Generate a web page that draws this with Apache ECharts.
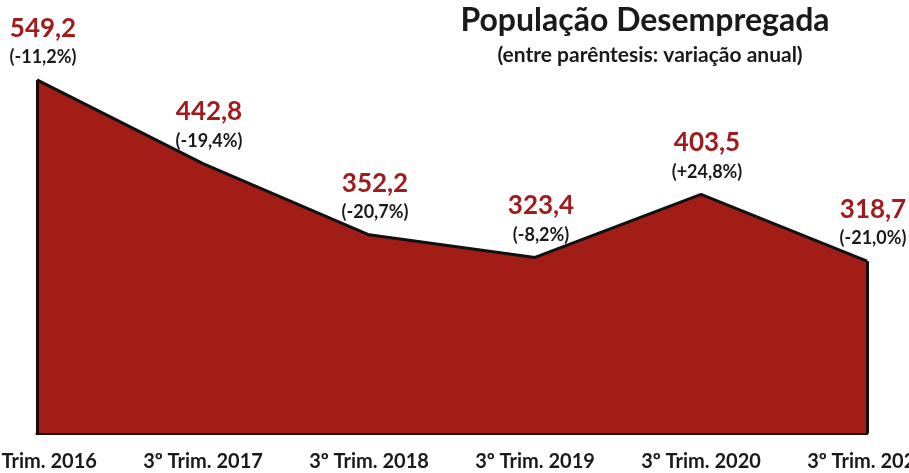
<!DOCTYPE html>
<html><head><meta charset="utf-8">
<script src="https://cdn.jsdelivr.net/npm/echarts@6/dist/echarts.min.js"></script>
<style>html,body{margin:0;padding:0;background:#fff}#c{width:909px;height:473px}</style>
</head><body><div id="c"></div>
<script>
const categories = ['3º Trim. 2016','3º Trim. 2017','3º Trim. 2018','3º Trim. 2019','3º Trim. 2020','3º Trim. 2021'];
const values = [549.2, 442.8, 352.2, 323.4, 403.5, 318.7];
const changes = ['-11,2%', '-19,4%', '-20,7%', '-8,2%', '+24,8%', '-21,0%'];
const yMin = 100, yMax = 600;

const fmt = v => v.toFixed(1).replace('.', ',');
const chart = echarts.init(document.getElementById('c'));
const last = values.length - 1;
chart.setOption({
  animation: false,
  title: [{
    text: 'População Desempregada',
    left: 640, top: 0, textAlign: 'center',
    textStyle: {fontFamily: 'Lato', fontWeight: 'bold', fontSize: 32, color: '#1a1a1a'}
  }, {
    text: '(entre parêntesis: variação anual)',
    left: 645, top: 40, textAlign: 'center',
    textStyle: {fontFamily: 'Lato', fontWeight: 'bold', fontSize: 21, color: '#1a1a1a'}
  }],
  grid: {left: 37, right: 42, top: 40, bottom: 40, containLabel: false, outerBoundsMode: 'none'},
  xAxis: {
    type: 'category', data: categories, boundaryGap: false,
    axisLine: {show: true, lineStyle: {color: '#1a0a08', width: 3}},
    axisTick: {show: false},
    axisLabel: {fontFamily: 'Lato', fontWeight: 'bold', fontSize: 20, color: '#1a1a1a', margin: 19, showMinLabel: true, showMaxLabel: true, interval: 0, hideOverlap: false}
  },
  yAxis: {type: 'value', min: yMin, max: yMax, show: false, splitLine: {show: false}},
  series: [{
    type: 'line', data: values, symbol: 'none',
    lineStyle: {color: '#111', width: 3},
    areaStyle: {color: '#a31d17', opacity: 1},
    markLine: {
      silent: true, symbol: 'none', label: {show: false},
      lineStyle: {color: '#1a0a08', width: 3, type: 'solid'},
      data: [
        [{coord: [0, values[0]]}, {coord: [0, yMin]}],
        [{coord: [last, values[last]]}, {coord: [last, yMin]}]
      ]
    }
  }, {
    type: 'scatter', data: values, symbolSize: 1, silent: true,
    itemStyle: {color: 'rgba(0,0,0,0)', opacity: 1},
    label: {
      show: true, position: 'top', distance: 10, offset: [6, 0], opacity: 1,
      formatter: p => '{v|' + fmt(p.value) + '}\n{p|(' + changes[p.dataIndex] + ')}',
      rich: {
        v: {fontFamily: 'Lato', fontWeight: 'bold', fontSize: 26, color: '#a01c1c', lineHeight: 34, align: 'center'},
        p: {fontFamily: 'Lato', fontWeight: 'bold', fontSize: 18, color: '#1a1a1a', lineHeight: 24, align: 'center'}
      }
    }
  }]
});
</script></body></html>
